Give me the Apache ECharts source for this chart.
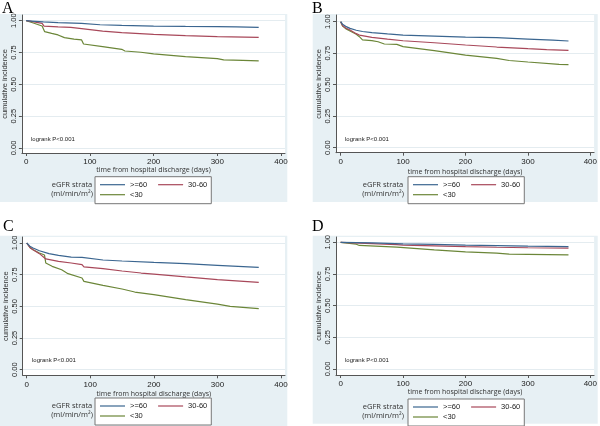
<!DOCTYPE html>
<html><head><meta charset="utf-8">
<script src="https://cdn.jsdelivr.net/npm/echarts@6/dist/echarts.min.js"></script>
<style>html,body{margin:0;padding:0;background:#fff}#c{width:600px;height:426px}</style>
</head><body><div id="c"></div><script>
// ---- data ----
const seriesNames = [">=60", "30-60", "<30"];
const xTicks = [0, 100, 200, 300, 400];
const yTicks = [0, 0.25, 0.5, 0.75, 1];
const yTickLabels = ["0.00", "0.25", "0.50", "0.75", "1.00"];
const panelLetters = ["A", "B", "C", "D"];
const logrankText = "logrank P<0.001";
const xTitle = "time from hospital discharge (days)";
const yTitle = "cumulative incidence";
const legendTitle = ["eGFR strata", "(ml/min/m\u00b2)"];

const A_ge60 = [[0,1],[8,0.997],[27,0.99],[50,0.985],[87,0.979],[90,0.971],[116,0.968],[150,0.963],[200,0.958],[250,0.955],[300,0.953],[330,0.951],[365,0.948]];
const A_30_60 = [[0,1],[10,0.993],[25,0.979],[28,0.958],[50,0.952],[70,0.947],[87,0.937],[90,0.928],[120,0.918],[150,0.906],[200,0.893],[250,0.882],[300,0.875],[365,0.869]];
const A_lt30 = [[0,1],[10,0.984],[25,0.958],[28,0.945],[29,0.914],[40,0.9],[50,0.888],[60,0.867],[75,0.855],[87,0.849],[90,0.817],[120,0.796],[150,0.775],[155,0.762],[180,0.752],[200,0.739],[250,0.718],[300,0.702],[310,0.692],[340,0.688],[365,0.684]];

const B_ge60 = [[0,1],[3,0.98],[8,0.963],[15,0.947],[25,0.932],[35,0.922],[50,0.913],[75,0.903],[100,0.894],[150,0.886],[200,0.878],[250,0.873],[300,0.862],[340,0.853],[365,0.847]];
const B_30_60 = [[0,1],[3,0.97],[8,0.95],[15,0.934],[25,0.905],[30,0.894],[50,0.876],[75,0.862],[100,0.849],[150,0.833],[200,0.815],[250,0.799],[300,0.786],[330,0.779],[365,0.772]];
const B_lt30 = [[0,1],[3,0.965],[8,0.945],[15,0.926],[25,0.9],[30,0.881],[35,0.856],[50,0.85],[60,0.841],[70,0.823],[90,0.82],[100,0.802],[150,0.77],[200,0.735],[250,0.709],[270,0.692],[300,0.68],[350,0.661],[365,0.659]];

const C_ge60 = [[0,1],[5,0.975],[10,0.961],[20,0.939],[35,0.916],[50,0.903],[70,0.889],[87,0.887],[90,0.876],[120,0.866],[150,0.858],[200,0.847],[250,0.837],[300,0.824],[365,0.808]];
const C_30_60 = [[0,1],[5,0.965],[10,0.947],[20,0.916],[30,0.874],[50,0.855],[70,0.842],[87,0.829],[90,0.811],[120,0.797],[150,0.779],[180,0.763],[200,0.755],[250,0.732],[300,0.711],[365,0.689]];
const C_lt30 = [[0,1],[5,0.965],[10,0.947],[20,0.921],[28,0.905],[30,0.842],[40,0.816],[55,0.789],[65,0.758],[87,0.724],[90,0.697],[120,0.666],[150,0.637],[170,0.613],[200,0.592],[250,0.553],[300,0.518],[320,0.5],[365,0.482]];

const D_ge60 = [[0,1],[50,0.995],[100,0.988],[150,0.984],[200,0.978],[250,0.974],[300,0.97],[365,0.966]];
const D_30_60 = [[0,1],[30,0.993],[90,0.982],[100,0.978],[150,0.972],[200,0.966],[250,0.961],[300,0.957],[365,0.954]];
const D_lt30 = [[0,1],[25,0.985],[30,0.975],[90,0.962],[92,0.952],[150,0.94],[200,0.925],[250,0.915],[270,0.906],[300,0.905],[365,0.9]];

const panelData = [[A_ge60, A_30_60, A_lt30],[B_ge60, B_30_60, B_lt30],[C_ge60, C_30_60, C_lt30],[D_ge60, D_30_60, D_lt30]];

// ---- layout / style ----
const colors = ["#3b6690", "#a8485a", "#6b8638"];
const bgColor = "#e7f0f4";
const axisColor = "#555";
const SANS = "Liberation Sans";
const HUM = "Open Sans";
const L = [
  {axL:21.7, top:15, right:285, axB:153, x0:26, x400:281, y1:20.7, y0:148,
   bg:[0,14,287.3,188], letter:[2,1], logrank:[31,139.5], leg:[95,176.7], legT:[72,184.5,193.5], xGap:12.5, yGap:12},
  {axL:336, top:15, right:596.5, axB:152.7, x0:340.7, x400:592.7, y1:21.7, y0:147.7,
   bg:[312.7,14,285,188], letter:[312,1], logrank:[345,139.5], leg:[408,176.7], legT:[383,184.5,193.5], xGap:15.5, yGap:12},
  {axL:22.7, top:237, right:285, axB:375.3, x0:26.7, x400:281, y1:243, y0:369.7,
   bg:[0,235.7,287.3,190.3], letter:[3,219], logrank:[32,360.7], leg:[95,398], legT:[72,406,415], xGap:15, yGap:12},
  {axL:336, top:237, right:596.5, axB:375, x0:340.7, x400:592.7, y1:242.3, y0:369,
   bg:[312.7,235.7,285,188], letter:[312,219], logrank:[345,360.7], leg:[408,399], legT:[383,406.5,415.5], xGap:12, yGap:12}
];

const grids = [], xAxes = [], yAxes = [], series = [], legends = [], graphics = [];
L.forEach((p, i) => {
  const sx = (p.x400 - p.x0) / 400;
  const sy = (p.y0 - p.y1);
  grids.push({left:p.axL, top:p.top, width:p.right - p.axL, height:p.axB - p.top,
    show:true, backgroundColor:'#fff', borderWidth:0, containLabel:false});
  xAxes.push({type:'value', gridIndex:i,
    min:(p.axL - p.x0)/sx, max:(p.right - p.x0)/sx,
    axisLine:{show:true, onZero:false, lineStyle:{color:axisColor, width:1}},
    axisTick:{show:true, length:3, customValues:xTicks, lineStyle:{color:axisColor}},
    axisLabel:{customValues:xTicks, fontSize:8, fontFamily:SANS, color:'#222', margin:5},
    splitLine:{show:false},
    name:xTitle, nameLocation:'middle', nameGap:p.xGap,
    nameTextStyle:{fontSize:7, fontFamily:HUM, color:'#333'}});
  yAxes.push({type:'value', gridIndex:i,
    min:-(p.axB - p.y0)/sy, max:1 + (p.y1 - p.top)/sy,
    axisLine:{show:true, onZero:false, lineStyle:{color:axisColor, width:1}},
    axisTick:{show:true, length:3, customValues:yTicks, lineStyle:{color:axisColor}},
    axisLabel:{customValues:yTicks, rotate:90, fontSize:7.5, fontFamily:SANS, color:'#222', margin:4,
      formatter:(v)=>{ const k = yTicks.findIndex(t=>Math.abs(t-v)<1e-6); return k>=0 ? yTickLabels[k] : ''; }},
    splitLine:{show:true, lineStyle:{color:'#e4ecf0', width:1}},
    name:yTitle, nameLocation:'middle', nameGap:p.yGap, nameRotate:90,
    nameTextStyle:{fontSize:7.5, fontFamily:SANS, color:'#333'}});
  panelData[i].forEach((d, j) => {
    series.push({type:'line', name:seriesNames[j], xAxisIndex:i, yAxisIndex:i, data:d,
      symbol:'none', showSymbol:false, smooth:false, color:colors[j], lineStyle:{color:colors[j], width:1.2}, z:3 - j + 2,
      animation:false});
  });
  // legend row 1 (boxed)
  legends.push({data:[seriesNames[0], seriesNames[1]], left:p.leg[0], top:p.leg[1], orient:'horizontal',
    icon:'rect', padding:[4,4,15,5], itemWidth:25, itemHeight:1.2, itemGap:11,
    backgroundColor:'#fff', borderColor:'#777', borderWidth:1, borderRadius:0, z:4,
    textStyle:{fontSize:7.5, fontFamily:SANS, color:'#222'}, selectedMode:false});
  legends.push({data:[seriesNames[2]], left:p.leg[0], top:p.leg[1] + 14, orient:'horizontal',
    icon:'rect', padding:[0,0,0,5], itemWidth:25, itemHeight:1.2, z:6,
    textStyle:{fontSize:7.5, fontFamily:SANS, color:'#222'}, selectedMode:false});
  graphics.push({type:'rect', z:-10, silent:true, shape:{x:p.bg[0], y:p.bg[1], width:p.bg[2], height:p.bg[3]}, style:{fill:bgColor}});
  graphics.push({type:'text', z:100, silent:true, style:{text:panelLetters[i], x:p.letter[0], y:p.letter[1], fontSize:16, fontFamily:'Liberation Serif', fill:'#000'}});
  graphics.push({type:'text', z:100, silent:true, style:{text:logrankText, x:p.logrank[0], y:p.logrank[1], verticalAlign:'middle', fontSize:6, fontFamily:SANS, fill:'#222'}});
  graphics.push({type:'text', z:100, silent:true, style:{text:legendTitle[0], x:p.legT[0], y:p.legT[1], align:'center', verticalAlign:'middle', fontSize:7.5, fontFamily:HUM, fill:'#333'}});
  graphics.push({type:'text', z:100, silent:true, style:{text:legendTitle[1], x:p.legT[0], y:p.legT[2], align:'center', verticalAlign:'middle', fontSize:7.5, fontFamily:HUM, fill:'#333'}});
});

const chart = echarts.init(document.getElementById('c'), null, {renderer:'canvas'});
chart.setOption({animation:false, backgroundColor:'#fff', grid:grids, xAxis:xAxes, yAxis:yAxes,
  series:series, legend:legends, graphic:graphics});
</script></body></html>
